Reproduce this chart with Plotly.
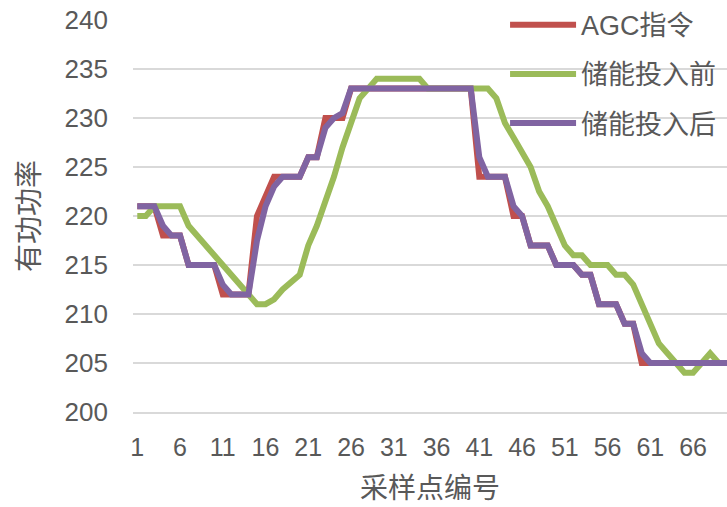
import plotly.graph_objects as go

# Sample index (1..70)
sample_no = list(range(1, 71))

# AGC command
agc_cmd = [221, 221, 221, 218, 218, 218, 215, 215, 215, 215,
           212, 212, 212, 212, 220, 222, 224, 224, 224, 224,
           226, 226, 230, 230, 230, 233, 233, 233, 233, 233,
           233, 233, 233, 233, 233, 233, 233, 233, 233, 233,
           224, 224, 224, 224, 220, 220, 217, 217, 217, 215,
           215, 215, 214, 214, 211, 211, 211, 209, 209, 205,
           205, 205, 205, 205, 205, 205, 205, 205, 205, 205]

# Output before storage is added
before_storage = [220, 220, 221, 221, 221, 221, 219, 218, 217, 216,
                  215, 214, 213, 212, 211, 211, 211.5, 212.5, 213.3, 214,
                  217, 219, 221.5, 224, 227, 229.5, 232, 233, 234, 234,
                  234, 234, 234, 234, 233, 233, 233, 233, 233, 233,
                  233, 233, 232, 229.5, 228, 226.5, 225, 222.5, 221, 219,
                  217, 216, 216, 215, 215, 215, 214, 214, 213, 211,
                  209, 207, 206, 205, 204, 204, 205, 206, 205, 205]

# Output after storage is added
after_storage = [221, 221, 221, 219, 218, 218, 215, 215, 215, 215,
                 213, 212, 212, 212, 217.5, 221, 223, 224, 224, 224,
                 226, 226, 229, 230, 230.5, 233, 233, 233, 233, 233,
                 233, 233, 233, 233, 233, 233, 233, 233, 233, 233,
                 226, 224, 224, 224, 221, 220, 217, 217, 217, 215,
                 215, 215, 214, 214, 211, 211, 211, 209, 209, 206,
                 205, 205, 205, 205, 205, 205, 205, 205, 205, 205]

series_names = ["AGC指令", "储能投入前", "储能投入后"]
series_colors = ["#C0504D", "#9BBB59", "#8064A2"]

x_tick_vals = [1, 6, 11, 16, 21, 26, 31, 36, 41, 46, 51, 56, 61, 66]
y_tick_vals = [200, 205, 210, 215, 220, 225, 230, 235, 240]

FONT = "Liberation Sans, Noto Sans CJK SC, sans-serif"
TEXT_GRAY = "#595959"
GRID_GRAY = "#D9D9D9"

fig = go.Figure()
for name, ys, color in zip(series_names, [agc_cmd, before_storage, after_storage], series_colors):
    fig.add_trace(go.Scatter(
        x=sample_no, y=ys, mode="lines", name=name, legendgroup=name,
        line=dict(color=color, width=6),
    ))

fig.update_layout(
    width=727, height=507,
    margin=dict(l=133, r=0, t=20, b=95),
    paper_bgcolor="white", plot_bgcolor="white",
    font=dict(family=FONT, color=TEXT_GRAY, size=25),
    legend=dict(
        x=0.99, xanchor="right", y=1.049, yanchor="top",
        bgcolor="rgba(255,255,255,0)",
        font=dict(size=27, color=TEXT_GRAY, family=FONT),
        itemwidth=66, tracegroupgap=11,
    ),
    xaxis=dict(
        range=[0.5, 69.97], tickmode="array", tickvals=x_tick_vals,
        showgrid=False, zeroline=False,
        showline=True, linecolor=GRID_GRAY, linewidth=1.5,
        ticks="", ticklabelstandoff=12,
        tickfont=dict(size=25, family=FONT, color=TEXT_GRAY),
        title=dict(text="采样点编号", font=dict(size=28, family=FONT, color=TEXT_GRAY), standoff=19),
    ),
    yaxis=dict(
        range=[200, 240], tickmode="array", tickvals=y_tick_vals,
        showgrid=True, gridcolor=GRID_GRAY, gridwidth=1.5,
        zeroline=False, showline=False, ticks="",
        ticklabelstandoff=24,
        tickfont=dict(size=26, family=FONT, color=TEXT_GRAY),
        title=dict(text="有功功率", font=dict(size=28, family=FONT, color=TEXT_GRAY), standoff=16),
    ),
)

fig.write_html("out.html")
